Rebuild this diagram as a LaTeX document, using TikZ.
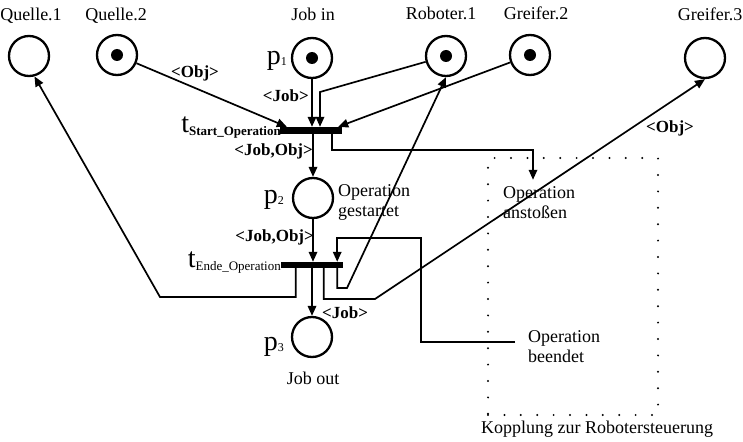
\documentclass[tikz,border=0pt]{standalone}
\usepackage{fontspec}
\setmainfont{Liberation Serif}
\usetikzlibrary{arrows.meta,calc}
\begin{document}
\begin{tikzpicture}[x=1pt,y=-1pt,
  place/.style={circle,draw,line width=2.3pt,minimum size=40pt,inner sep=0pt},
  marked/.style={place,path picture={\fill (path picture bounding box.center) circle (6pt);}},
  trans/.style={rectangle,fill=black,draw=none,minimum width=62pt,minimum height=7pt,inner sep=0pt},
  arc/.style={line width=1.7pt,-{Triangle[length=10pt,width=8.5pt]}},
  txt/.style={font=\fontsize{18}{20}\selectfont,inner sep=0pt},
  inscr/.style={font=\bfseries\fontsize{17}{18}\selectfont,inner sep=0pt},
  pname/.style={font=\fontsize{28}{30}\selectfont,inner sep=0pt},
  dotbox/.style={draw,line width=2.2pt,line cap=round,dash pattern=on 0pt off 16.4pt,rectangle,inner sep=0pt},
]
\useasboundingbox (0,0) rectangle (743,441);

% places
\node[place]  (q1) at (29,56)  {};
\node[marked] (q2) at (117,55) {};
\node[marked] (p1) at (312,58) {};
\node[marked] (r1) at (446,56) {};
\node[marked] (g2) at (530,55) {};
\node[place]  (g3) at (705,58) {};
\node[place]  (p2) at (313,198) {};
\node[place]  (p3) at (312,337) {};

% place names
\node[txt,anchor=base] (lq1) at (31,21)  {Quelle.1};
\node[txt,anchor=base] (lq2) at (116,21) {Quelle.2};
\node[txt,anchor=base] (lp1) at (313,21) {Job in};
\node[txt,anchor=base] (lr1) at (441,20) {Roboter.1};
\node[txt,anchor=base] (lg2) at (536,20) {Greifer.2};
\node[txt,anchor=base] (lg3) at (710,21) {Greifer.3};
\node[txt,anchor=base] (lp3) at (313,384) {Job out};
\node[txt,anchor=west,align=left] (lp2) at (338,202) {Operation\\gestartet};

\node[pname,anchor=base east] (np1) at (287,65)  {p\raisebox{-1pt}{\fontsize{12}{12}\selectfont 1}};
\node[pname,anchor=base east] (np2) at (284,203) {p\raisebox{-1pt}{\fontsize{12}{12}\selectfont 2}};
\node[pname,anchor=base east] (np3) at (284,350) {p\raisebox{-1pt}{\fontsize{12}{12}\selectfont 3}};

% transitions
\node[trans] (ts) at (311,130.5) {};
\node[trans,minimum height=6pt] (te) at (312,265) {};
\node[pname,anchor=base east] (nts) at (281,132)
  {t\raisebox{-3pt}{\bfseries\fontsize{13}{13}\selectfont Start\_Operation}};
\node[pname,anchor=base east] (nte) at (281,267)
  {t\raisebox{-3pt}{\fontsize{13}{13}\selectfont Ende\_Operation}};

% robot coupling
\node[dotbox,minimum width=170pt,minimum height=257pt] (box) at (573,286.5) {};
\node[txt,anchor=base] (lbox) at (597,433) {Kopplung zur Robotersteuerung};
\node[txt,anchor=west,align=left,inner ysep=7pt] (anst) at (503,203) {Operation\\anstoßen};
\node[txt,anchor=west,align=left] (beend) at (528,347) {Operation\\beendet};

% inputs of t_Start_Operation
\draw[arc] (q2) -- ([xshift=7pt]ts.north west);
\draw[arc] (p1) -- (p1 |- ts.north);
\coordinate (rb) at (320,92);
\draw[arc] (r1) -- (rb) -- (rb |- ts.north);
\draw[arc] (g2) -- ([xshift=-4pt]ts.north east);

% outputs of t_Start_Operation
\draw[arc] (p2 |- ts.south) -- (p2);
\coordinate (k1) at (533,150);
\draw[arc] ([xshift=-10pt]ts.south east) |- (k1) -- (k1 |- anst.north);

% inputs of t_Ende_Operation
\draw[arc] (p2) -- (p2 |- te.north);
\coordinate (c4) at (421,238);
\draw[arc] ([xshift=-13pt,yshift=5pt]beend.west) -| (c4) -| ([xshift=-6pt]te.north east);

% outputs of t_Ende_Operation
\draw[arc] (p3 |- te.south) -- (p3);
\coordinate (c1) at (160,297);
\draw[arc] ([xshift=15pt]te.south west) |- (c1) -- (q1.285);
\coordinate (c2) at (347,288);
\draw[arc] ([xshift=-6pt]te.south east) |- (c2) -- (r1.south);
\coordinate (c3) at (375,299);
\draw[arc] ([xshift=43pt]te.south west) |- (c3) -- (g3.south);

% arc inscriptions
\node[inscr] (i1) at (195,73) {<Obj>};
\node[inscr,anchor=east] (i2) at (309,96) {<Job>};
\node[inscr,anchor=east] (i3) at (313,151) {<Job,Obj>};
\node[inscr,anchor=east] (i4) at (314,237) {<Job,Obj>};
\node[inscr,anchor=west] (i5) at (322,313) {<Job>};
\node[inscr] (i6) at (670,128) {<Obj>};
\end{tikzpicture}
\end{document}
